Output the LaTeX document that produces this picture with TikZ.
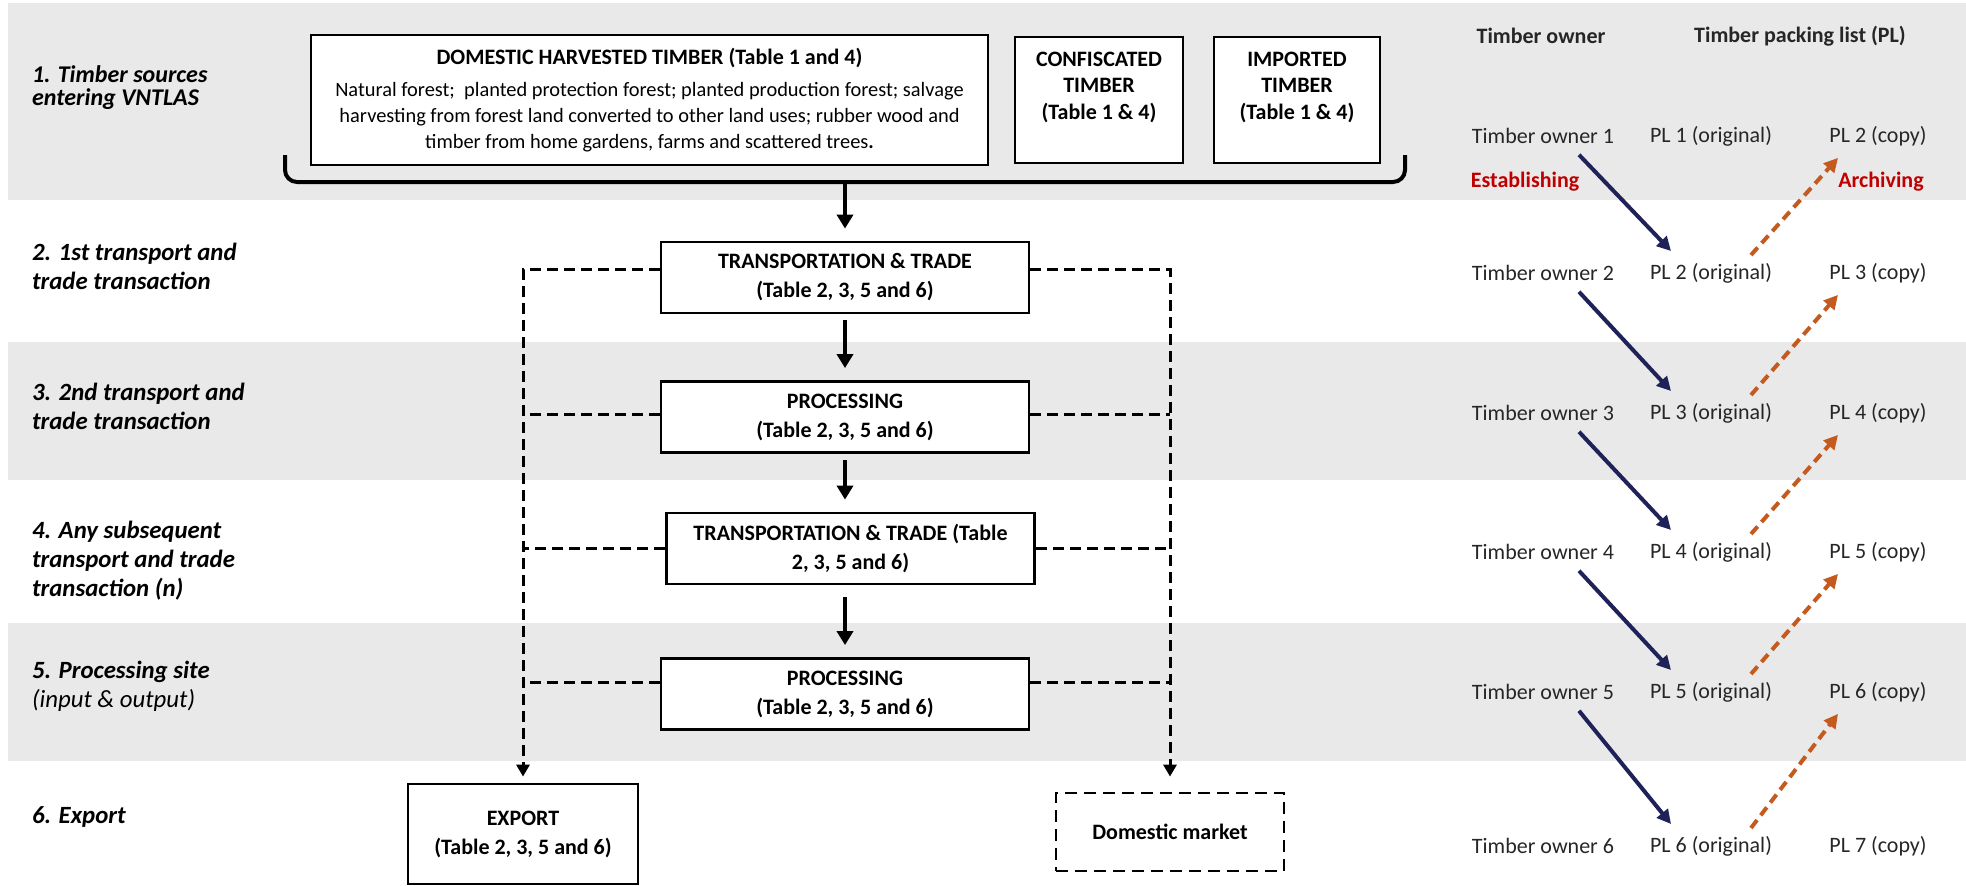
\documentclass[tikz,border=0pt]{standalone}
\usepackage{fontspec}
\setmainfont{Carlito}
\usetikzlibrary{arrows.meta}
\definecolor{bandgray}{RGB}{233,233,233}
\definecolor{ownblue}{RGB}{30,34,88}
\definecolor{copyorange}{RGB}{197,90,30}
\definecolor{markred}{RGB}{192,0,0}

\begin{document}
\begin{tikzpicture}[x=0.5pt, y=-0.5pt,
  rowlabel/.style={anchor=west, align=left, font=\fontsize{12.4}{14.5}\selectfont\bfseries\itshape},
  srcbox/.style={draw, line width=1.4pt, fill=white, inner sep=0pt},
  stepbox/.style={draw, line width=1.4pt, fill=white, minimum width=184pt, minimum height=35.5pt, align=center, font=\fontsize{11}{14.5}\selectfont\bfseries},
  flowarrow/.style={line width=2.2pt, -{Triangle[width=8pt,length=7pt]}, shorten >=6pt},
  dashline/.style={line width=1.5pt, dash pattern=on 5.5pt off 3pt},
  dashtip/.style={-{Triangle[width=6.5pt,length=6pt]}},
  rowtext/.style={font=\fontsize{11}{13}\selectfont, text=black!85},
  headtext/.style={font=\fontsize{11}{13}\selectfont\bfseries, text=black!85},
  ownarrow/.style={ownblue, line width=2pt, -{Triangle[width=7pt,length=7pt]}},
  copyarrow/.style={copyorange, line width=2pt, dash pattern=on 5pt off 3pt, -{Triangle[width=7pt,length=7pt]}}]
\useasboundingbox (0,0) rectangle (1966,885);
\fill[bandgray] (8,3) rectangle (1966,200);
\fill[bandgray] (8,342) rectangle (1966,480);
\fill[bandgray] (8,623) rectangle (1966,761);

\node[rowlabel, font=\fontsize{12}{11.5}\selectfont\bfseries\itshape] (lab1) at (25,88) {1. Timber sources\\entering VNTLAS};
\node[rowlabel] (lab2) at (25,266) {2. 1st transport and\\trade transaction};
\node[rowlabel] (lab3) at (25,406) {3. 2nd transport and\\trade transaction};
\node[rowlabel] (lab4) at (25,561) {4. Any subsequent\\transport and trade\\transaction (n)};
\node[rowlabel] (lab5) at (25,686) {5. Processing site\\{\mdseries(input \& output)}};
\node[rowlabel] (lab6) at (25,817) {6. Export};

\node[srcbox, minimum width=338.5pt, minimum height=65pt, align=center, font=\fontsize{10.2}{13}\selectfont] (dom) at (649.5,100) {{\fontsize{11}{13}\selectfont\bfseries DOMESTIC HARVESTED TIMBER (Table 1 and 4)}\\[3pt]
  Natural forest;\ \ planted protection forest; planted production forest; salvage\\
  harvesting from forest land converted to other land uses; rubber wood and\\
  timber from home gardens, farms and scattered trees\textbf{.}};
\node[srcbox, minimum width=84pt, minimum height=63pt] (conf) at (1099,100) {};
\node[align=center, font=\fontsize{11}{13.25}\selectfont\bfseries] (conftext) at (1099,87) {CONFISCATED\\TIMBER\\(Table 1 \& 4)};
\node[srcbox, minimum width=83pt, minimum height=63pt] (imp) at (1297,100) {};
\node[align=center, font=\fontsize{11}{13.25}\selectfont\bfseries] (imptext) at (1297,87) {IMPORTED\\TIMBER\\(Table 1 \& 4)};
\draw[line width=2pt, rounded corners=6pt] (285,155) -- (285,182) -- (1405,182) -- (1405,155);
\coordinate (brk) at (845,182);

\node[stepbox] (tt1) at (845,277.5) {TRANSPORTATION \& TRADE\\(Table 2, 3, 5 and 6)};
\node[stepbox] (pr1) at (845,417) {PROCESSING\\(Table 2, 3, 5 and 6)};
\node[stepbox] (tt2) at (850.5,548.5) {TRANSPORTATION \& TRADE (Table\\2, 3, 5 and 6)};
\node[stepbox] (pr2) at (845,694) {PROCESSING\\(Table 2, 3, 5 and 6)};
\node[stepbox, minimum width=115pt, minimum height=50pt] (export) at (523,834) {EXPORT\\(Table 2, 3, 5 and 6)};
\node[stepbox, minimum width=114pt, minimum height=39pt, dash pattern=on 6pt off 3.5pt] (market) at (1170,832) {Domestic market};

\draw[flowarrow] (brk) -- (tt1);
\draw[flowarrow, shorten <=3pt] (tt1) -- (pr1);
\draw[flowarrow, shorten <=3pt] (pr1.south) -- (pr1.south |- tt2.north);
\draw[flowarrow, shorten <=6pt] (pr1.south |- tt2.south) -- (pr2.north);

\draw[dashline, dashtip, shorten >=3pt] ([yshift=4pt]tt1.west) -| (export.north);
\draw[dashline] ([yshift=1.5pt]pr1.west) -- ([yshift=1.5pt]pr1.west -| export.north);
\draw[dashline] (tt2.west) -- (tt2.west -| export.north);
\draw[dashline] ([yshift=6pt]pr2.west) -- ([yshift=6pt]pr2.west -| export.north);
\draw[dashline, dashtip, shorten >=7.5pt] ([yshift=4pt]tt1.east) -| (market.north);
\draw[dashline] ([yshift=1.5pt]pr1.east) -- ([yshift=1.5pt]pr1.east -| market.north);
\draw[dashline] (tt2.east) -- (tt2.east -| market.north);
\draw[dashline] ([yshift=6pt]pr2.east) -- ([yshift=6pt]pr2.east -| market.north);

\node[headtext] (hown) at (1541,36) {Timber owner};
\node[headtext] (hpl) at (1800,36) {Timber packing list (PL)};
\foreach \i/\y in {1/136,2/273,3/413,4/552,5/692,6/846} {
  \pgfmathtruncatemacro\k{\i+1}
  \node[rowtext] (own\i) at (1543,\y) {Timber owner \i};
  \node[rowtext] (orig\i) at (1711,\y) {PL \i\ (original)};
  \node[rowtext] (copy\i) at (1878,\y) {PL \k\ (copy)};
}
\node[headtext, text=markred] (estab) at (1525,182) {Establishing};
\node[headtext, text=markred] (arch) at (1881,182) {Archiving};
\foreach \i/\j in {1/2,2/3,3/4,4/5,5/6} {
  \draw[ownarrow] ([xshift=18pt,yshift=-2pt]own\i.south) -- ([xshift=-20pt,yshift=2.5pt]orig\j.north);
  \draw[copyarrow] ([xshift=20pt,yshift=0.5pt]orig\j.north) -- ([xshift=-20pt,yshift=-2.5pt]copy\i.south);
}
\end{tikzpicture}
\end{document}
